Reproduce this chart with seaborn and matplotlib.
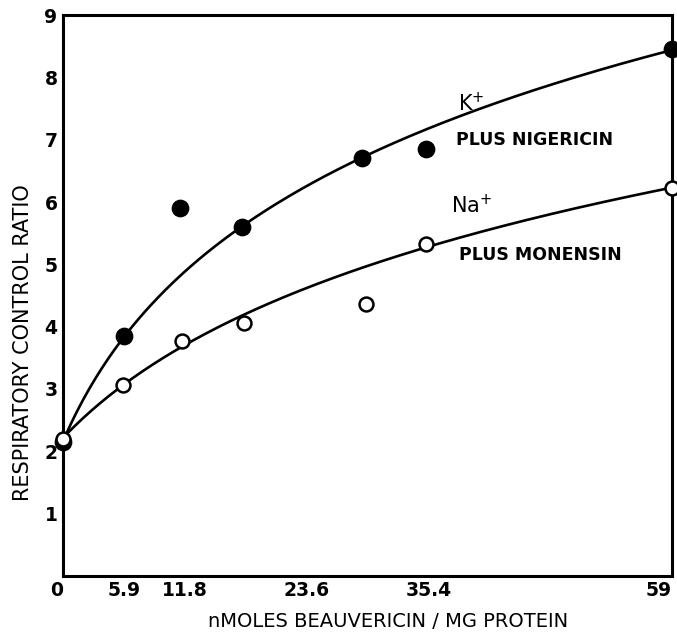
import numpy as np
import pandas as pd
import matplotlib
matplotlib.use("Agg")
import matplotlib.pyplot as plt
import seaborn as sns

# values
k_dose = [0, 5.9, 11.3, 17.3, 29.0, 35.2, 59]
k_rcr = [2.15, 3.85, 5.9, 5.6, 6.7, 6.85, 8.45]
na_dose = [0, 5.8, 11.5, 17.5, 29.4, 35.2, 59]
na_rcr = [2.2, 3.07, 3.77, 4.05, 4.36, 5.33, 6.22]

# points the hand-drawn curves actually pass through (others are off-curve)
k_curve_idx = [0, 1, 3, 4, 6]
na_curve_idx = [0, 1, 2, 3, 5, 6]

x_ticks = [0, 5.9, 11.8, 23.6, 35.4, 59]
x_tick_labels = ["0", "5.9", "11.8", "23.6", "35.4", "59"]
y_ticks = [1, 2, 3, 4, 5, 6, 7, 8, 9]


def fit_log_curve(x, y, idx, n=300):
    """Least-squares fit of y = c + a*ln(1 + x/b), grid search on b."""
    x = np.asarray(x, float)
    y = np.asarray(y, float)
    xf, yf = x[idx], y[idx]
    best = None
    for b in np.linspace(1, 40, 400):
        A = np.column_stack([np.ones_like(xf), np.log1p(xf / b)])
        coef, *_ = np.linalg.lstsq(A, yf, rcond=None)
        err = np.sum((A @ coef - yf) ** 2)
        if best is None or err < best[0]:
            best = (err, b, coef)
    _, b, (c, a) = best
    xs = np.linspace(x.min(), x.max(), n)
    return xs, c + a * np.log1p(xs / b)


sns.set_theme(style="white")
plt.rcParams["font.family"] = ["DejaVu Sans"]
plt.rcParams["text.color"] = "black"
plt.rcParams["axes.labelcolor"] = "black"

fig = plt.figure(figsize=(6.77, 6.32), dpi=100)
ax = fig.add_axes([0.093, 0.089, 0.8996, 0.887])

kx, ky = fit_log_curve(k_dose, k_rcr, k_curve_idx)
nx, ny = fit_log_curve(na_dose, na_rcr, na_curve_idx)
sns.lineplot(x=kx, y=ky, ax=ax, color="black", lw=1.9)
sns.lineplot(x=nx, y=ny, ax=ax, color="black", lw=1.9)

sns.scatterplot(x=k_dose, y=k_rcr, ax=ax, color="black", s=140,
                edgecolor="black", zorder=5, clip_on=False)
sns.scatterplot(x=na_dose, y=na_rcr, ax=ax, facecolor="white", s=100,
                edgecolor="black", linewidth=1.8, zorder=6, clip_on=False)

ax.set_xlim(0, 59)
ax.set_ylim(0, 9)
ax.set_xticks(x_ticks)
ax.set_xticklabels(x_tick_labels)
ax.set_yticks(y_ticks)
ax.tick_params(direction="in", length=14, width=2, color="black",
               labelsize=13.5, pad=4, labelcolor="black")
for lab in ax.get_xticklabels() + ax.get_yticklabels():
    lab.set_fontweight("bold")
xt = ax.get_xticklabels()
xt[0].set_ha("right")
xt[-1].set_ha("right")

for s in ax.spines.values():
    s.set_visible(True)
    s.set_color("black")
    s.set_linewidth(2.2)

ax.set_xlabel("nMOLES BEAUVERICIN / MG PROTEIN", fontsize=14)
ax.xaxis.set_label_coords(0.534, -0.064)
ax.set_ylabel("RESPIRATORY CONTROL RATIO", fontsize=15)
ax.yaxis.set_label_coords(-0.049, 0.415)

ax.text(38.3, 7.58, r"K$^{+}$", fontsize=15, ha="left", va="center")
ax.text(38.1, 7.0, "PLUS NIGERICIN", fontsize=12.5, fontweight="bold",
        ha="left", va="center")
ax.text(37.6, 5.95, r"Na$^{+}$", fontsize=15, ha="left", va="center")
ax.text(38.4, 5.15, "PLUS MONENSIN", fontsize=12.5, fontweight="bold",
        ha="left", va="center")

fig.savefig("out.png", dpi=100)
